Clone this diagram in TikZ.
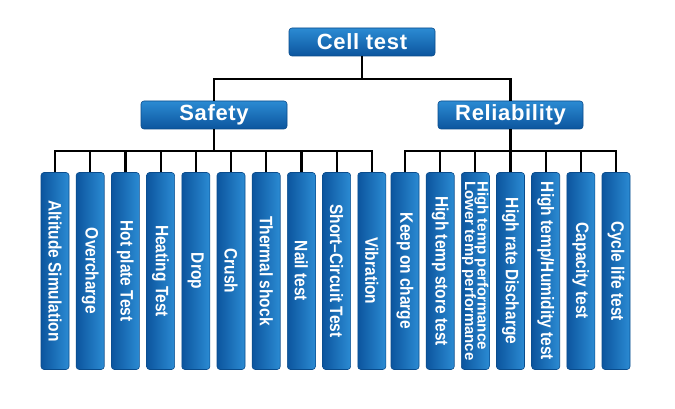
\documentclass[tikz,border=0pt]{standalone}
\usepackage{graphicx}
\usepackage{fontspec}
\setmainfont{Liberation Sans}
\newfontfamily\labfont[FakeStretch=0.86]{Liberation Sans}
\newfontfamily\headfont[LetterSpace=3]{Liberation Sans}
\definecolor{cbl}{HTML}{2B8BD3}
\definecolor{cbd}{HTML}{0C559E}
\definecolor{cbe}{HTML}{0A4C8C}
\newcommand{\vlab}[1]{\rotatebox{-90}{#1}}
\begin{document}
\begin{tikzpicture}[x=1pt,y=-1pt,
  head/.style={rounded corners=3pt, top color=cbl, bottom color=cbd, draw=cbe, line width=0.6pt,
    minimum width=146pt, minimum height=28pt, text=white, inner sep=0pt,
    font=\headfont\bfseries\fontsize{22}{24}\selectfont},
  leaf/.style={rounded corners=3pt, left color=cbd, right color=cbl, draw=cbe, line width=0.6pt,
    minimum height=197pt, minimum width=28pt, text=white, inner sep=0pt,
    font=\labfont\bfseries\fontsize{18}{20}\selectfont},
  wire/.style={line width=2.2pt, draw=black}]
\useasboundingbox (0,0) rectangle (675,409);
\fill[white] (0,0) rectangle (675,409);

\node[head] (cell) at (362,42) {Cell test};
\node[head] (safety) at (214,115) {Safety};
\node[head, minimum width=145pt] (rel) at (510.5,115) {Reliability};

\node[leaf] (s1) at (55,271) {\vlab{Altitude Simulation}};
\node[leaf] (s2) at (90.2,271) {\vlab{Overcharge}};
\node[leaf] (s3) at (125.4,271) {\vlab{Hot plate Test}};
\node[leaf] (s4) at (160.6,271) {\vlab{Heating Test}};
\node[leaf] (s5) at (195.8,271) {\vlab{Drop}};
\node[leaf] (s6) at (231,271) {\vlab{Crush}};
\node[leaf] (s7) at (266.2,271) {\vlab{Thermal shock}};
\node[leaf] (s8) at (301.4,271) {\vlab{Nail test}};
\node[leaf] (s9) at (336.6,271) {\vlab{Short–Circuit Test}};
\node[leaf] (s10) at (371.8,271) {\vlab{Vibration}};

\node[leaf] (r1) at (405,271) {\vlab{Keep on charge}};
\node[leaf] (r2) at (440.2,271) {\vlab{High temp store test}};
\node[leaf, font=\bfseries\fontsize{15}{12.5}\selectfont] (r3) at (475.3,271)
  {\vlab{\lineskiplimit=-20pt\vbox{\hbox{High temp performance}\hbox{Lower temp performance}}}};
\node[leaf] (r4) at (510.5,271) {\vlab{High rate Discharge}};
\node[leaf] (r5) at (545.7,271) {\vlab{High temp/Humidity test}};
\node[leaf] (r6) at (580.8,271) {\vlab{Capacity test}};
\node[leaf] (r7) at (616,271) {\vlab{Cycle life test}};

% top level
\draw[wire] (cell.south) -- (cell.south |- 0,79);
\draw[wire] (safety.north) |- (rel.north |- 0,79) -- (rel.north);

% safety branch
\draw[wire] (safety.south) -- (safety.south |- 0,151);
\draw[wire] (s1.north) |- (s10.north |- 0,151) -- (s10.north);
\foreach \i in {2,...,9} \draw[wire] (s\i.north) -- (s\i.north |- 0,151);

% reliability branch
\draw[wire] (rel.south) -- (rel.south |- 0,151);
\draw[wire] (r1.north) |- (r7.north |- 0,151) -- (r7.north);
\foreach \i in {2,...,6} \draw[wire] (r\i.north) -- (r\i.north |- 0,151);
\end{tikzpicture}
\end{document}
